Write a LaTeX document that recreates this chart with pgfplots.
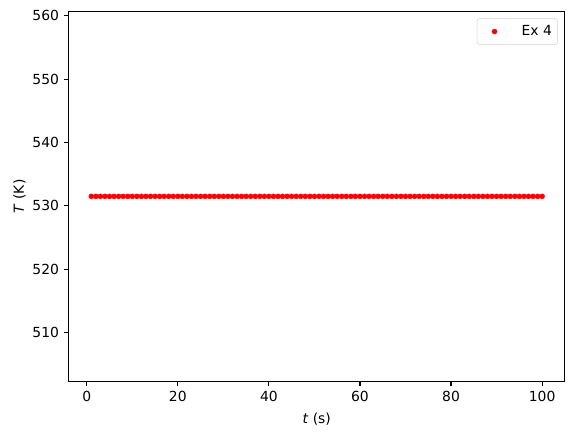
\documentclass[border=0pt]{standalone}
\usepackage{pgfplots}
\pgfplotsset{compat=1.18}
\usepackage{fontspec}
\setmainfont{DejaVu Sans}
\begin{document}
\begin{tikzpicture}
\begin{axis}[
    scale only axis,
    width=357pt, height=266.5pt,
    xmin=-3.95, xmax=104.95,
    ymin=502.27, ymax=560.73,
    xtick={0,20,40,60,80,100},
    ytick={510,520,530,540,550,560},
    tick align=outside,
    major tick length=3.5pt,
    every tick/.style={black, line width=0.8pt},
    axis line style={line width=0.8pt},
    tick label style={font=\fontsize{10}{12}\selectfont},
    label style={font=\fontsize{10}{12}\selectfont},
    /pgf/number format/assume math mode=true,
    /pgf/number format/1000 sep={},
    xtick pos=bottom, ytick pos=left,
    xlabel={\textit{t} (s)},
    ylabel={\textit{T} (K)},
    xlabel style={yshift=-1pt},
    ylabel style={yshift=-2pt},
    legend style={at={(rel axis cs:1,1)}, anchor=north east, xshift=-5pt, yshift=-5pt,
        draw=black!18, rounded corners=2pt, font=\fontsize{10}{12}\selectfont,
        inner xsep=2pt, inner ysep=3pt},
    legend cell align=left,
    legend image code/.code={%
        \pgfpathrectangle{\pgfpoint{0pt}{-3pt}}{\pgfpoint{22pt}{6pt}}%
        \pgfusepath{use as bounding box}%
        \draw[mark repeat=2,mark phase=2] plot coordinates {(0pt,0pt) (10.5pt,0pt) (21pt,0pt)};},
]
\addplot[only marks, mark=*, mark size=1.75pt, color=red] coordinates {
(1,531.5) (2,531.5) (3,531.5) (4,531.5) (5,531.5) (6,531.5) (7,531.5) (8,531.5) (9,531.5) (10,531.5)
(11,531.5) (12,531.5) (13,531.5) (14,531.5) (15,531.5) (16,531.5) (17,531.5) (18,531.5) (19,531.5) (20,531.5)
(21,531.5) (22,531.5) (23,531.5) (24,531.5) (25,531.5) (26,531.5) (27,531.5) (28,531.5) (29,531.5) (30,531.5)
(31,531.5) (32,531.5) (33,531.5) (34,531.5) (35,531.5) (36,531.5) (37,531.5) (38,531.5) (39,531.5) (40,531.5)
(41,531.5) (42,531.5) (43,531.5) (44,531.5) (45,531.5) (46,531.5) (47,531.5) (48,531.5) (49,531.5) (50,531.5)
(51,531.5) (52,531.5) (53,531.5) (54,531.5) (55,531.5) (56,531.5) (57,531.5) (58,531.5) (59,531.5) (60,531.5)
(61,531.5) (62,531.5) (63,531.5) (64,531.5) (65,531.5) (66,531.5) (67,531.5) (68,531.5) (69,531.5) (70,531.5)
(71,531.5) (72,531.5) (73,531.5) (74,531.5) (75,531.5) (76,531.5) (77,531.5) (78,531.5) (79,531.5) (80,531.5)
(81,531.5) (82,531.5) (83,531.5) (84,531.5) (85,531.5) (86,531.5) (87,531.5) (88,531.5) (89,531.5) (90,531.5)
(91,531.5) (92,531.5) (93,531.5) (94,531.5) (95,531.5) (96,531.5) (97,531.5) (98,531.5) (99,531.5) (100,531.5)
};
\addlegendentry{\hspace{6pt}Ex 4}
\end{axis}
% page size: same margins round the axis box as in the reference
\pgfresetboundingbox
\path ([xshift=-49.5pt,yshift=-39.4pt]current axis.south west) rectangle ([xshift=6pt,yshift=8.1pt]current axis.north east);
\end{tikzpicture}
\end{document}
